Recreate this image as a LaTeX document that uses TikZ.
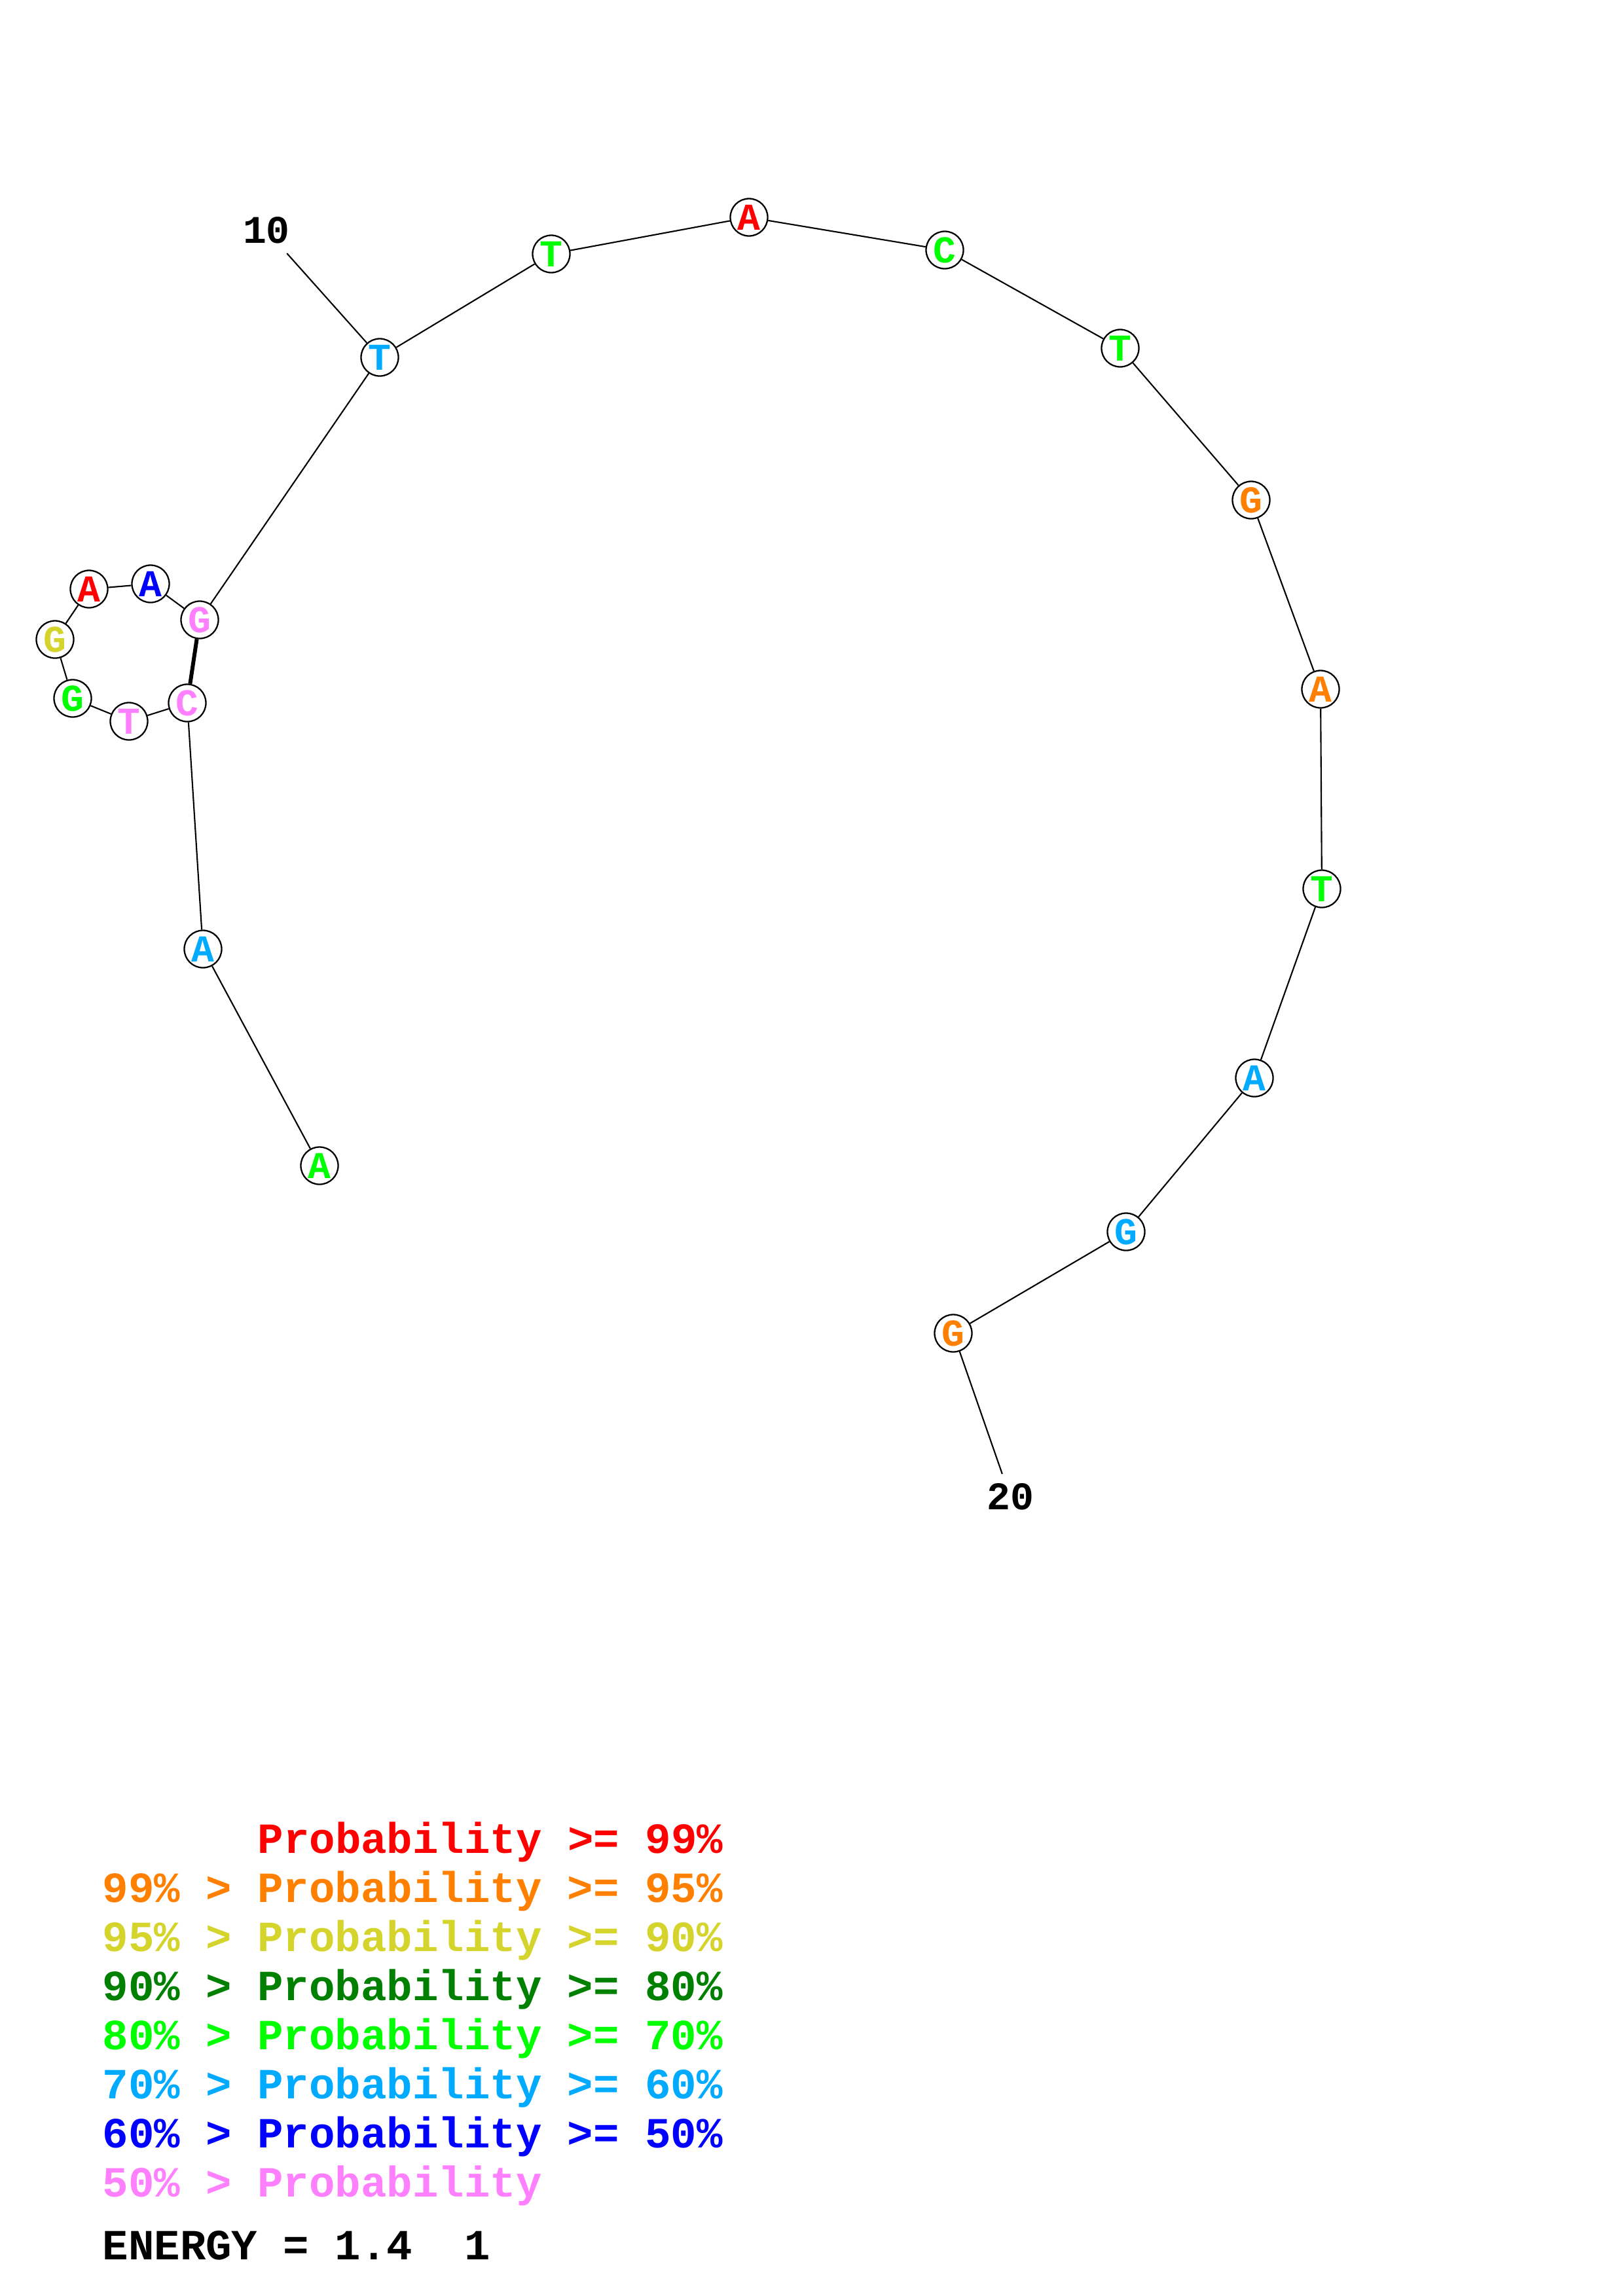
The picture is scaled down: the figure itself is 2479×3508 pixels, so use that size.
\documentclass[tikz,border=0pt]{standalone}
\usepackage{fontspec}
\setmonofont{Liberation Mono}
\usepackage{tikz}
\usetikzlibrary{positioning}
\definecolor{pred}{HTML}{FF0000}
\definecolor{porange}{HTML}{FF8000}
\definecolor{pyellow}{HTML}{D4D42C}
\definecolor{pdkgreen}{HTML}{008000}
\definecolor{pgreen}{HTML}{00FF00}
\definecolor{psky}{HTML}{00AAFF}
\definecolor{pblue}{HTML}{0000FF}
\definecolor{ppink}{HTML}{FF80FF}

\begin{document}
\begin{tikzpicture}[
      x=0.01cm, y=-0.01cm,
      base/.style={draw, circle, line width=0.65pt, fill=white,
                   minimum size=0.57cm, inner sep=0pt,
                   font=\fontsize{16.5}{16.5}\selectfont\ttfamily\bfseries},
      num/.style={inner sep=4pt, font=\fontsize{17}{17}\selectfont\ttfamily\bfseries},
      leg/.style={anchor=base west, inner sep=0pt,
                  font=\fontsize{18.7}{18.7}\selectfont\ttfamily\bfseries},
      bb/.style={line width=0.6pt},
      pair/.style={line width=1.7pt},
    ]
    \useasboundingbox (0,0) rectangle (2479,3508);

    % bases
    \node[base, text=pgreen]  (b1)  at (488, 1781) {A};
    \node[base, text=psky]    (b2)  at (310, 1450) {A};
    \node[base, text=ppink]   (b3)  at (286, 1074) {C};
    \node[base, text=ppink]   (b4)  at (197, 1102) {T};
    \node[base, text=pgreen]  (b5)  at (111, 1067) {G};
    \node[base, text=pyellow] (b6)  at (84, 977)   {G};
    \node[base, text=pred]    (b7)  at (136, 900)  {A};
    \node[base, text=pblue]   (b8)  at (230, 892)  {A};
    \node[base, text=ppink]   (b9)  at (305, 947)  {G};
    \node[base, text=psky]    (b10) at (580, 546)  {T};
    \node[base, text=pgreen]  (b11) at (842, 388)  {T};
    \node[base, text=pred]    (b12) at (1144, 332) {A};
    \node[base, text=pgreen]  (b13) at (1443, 382) {C};
    \node[base, text=pgreen]  (b14) at (1711, 532) {T};
    \node[base, text=porange] (b15) at (1911, 764) {G};
    \node[base, text=porange] (b16) at (2017, 1053) {A};
    \node[base, text=pgreen]  (b17) at (2019, 1358) {T};
    \node[base, text=psky]    (b18) at (1916, 1647) {A};
    \node[base, text=psky]    (b19) at (1720, 1882) {G};
    \node[base, text=porange] (b20) at (1456, 2037) {G};

    \node[num] (n10) at (407, 352)  {10};
    \node[num] (n20) at (1543, 2287) {20};

    % backbone
    \draw[bb] (b1) -- (b2);
    \draw[bb] (b2) -- (b3);
    \draw[bb] (b3) -- (b4);
    \draw[bb] (b4) -- (b5);
    \draw[bb] (b5) -- (b6);
    \draw[bb] (b6) -- (b7);
    \draw[bb] (b7) -- (b8);
    \draw[bb] (b8) -- (b9);
    \draw[bb] (b9) -- (b10);
    \draw[bb] (b10) -- (b11);
    \draw[bb] (b11) -- (b12);
    \draw[bb] (b12) -- (b13);
    \draw[bb] (b13) -- (b14);
    \draw[bb] (b14) -- (b15);
    \draw[bb] (b15) -- (b16);
    \draw[bb] (b16) -- (b17);
    \draw[bb] (b17) -- (b18);
    \draw[bb] (b18) -- (b19);
    \draw[bb] (b19) -- (b20);
    \draw[bb] (b10) -- (n10);
    \draw[bb] (b20) -- (n20);

    % base pair
    \draw[pair] (b3) -- (b9);

    % legend
    \node[leg, text=pred]     (l1) at (393, 2831) {Probability >= 99\%};
    \node[leg, text=porange]  (l2) at (156, 2906) {99\% > Probability >= 95\%};
    \node[leg, text=pyellow]  (l3) at (156, 2981) {95\% > Probability >= 90\%};
    \node[leg, text=pdkgreen] (l4) at (156, 3056) {90\% > Probability >= 80\%};
    \node[leg, text=pgreen]   (l5) at (156, 3131) {80\% > Probability >= 70\%};
    \node[leg, text=psky]     (l6) at (156, 3206) {70\% > Probability >= 60\%};
    \node[leg, text=pblue]    (l7) at (156, 3281) {60\% > Probability >= 50\%};
    \node[leg, text=ppink]    (l8) at (156, 3356) {50\% > Probability};
    \node[leg]                (en) at (156, 3452) {ENERGY = 1.4\ \ 1};
  \end{tikzpicture}
\end{document}
